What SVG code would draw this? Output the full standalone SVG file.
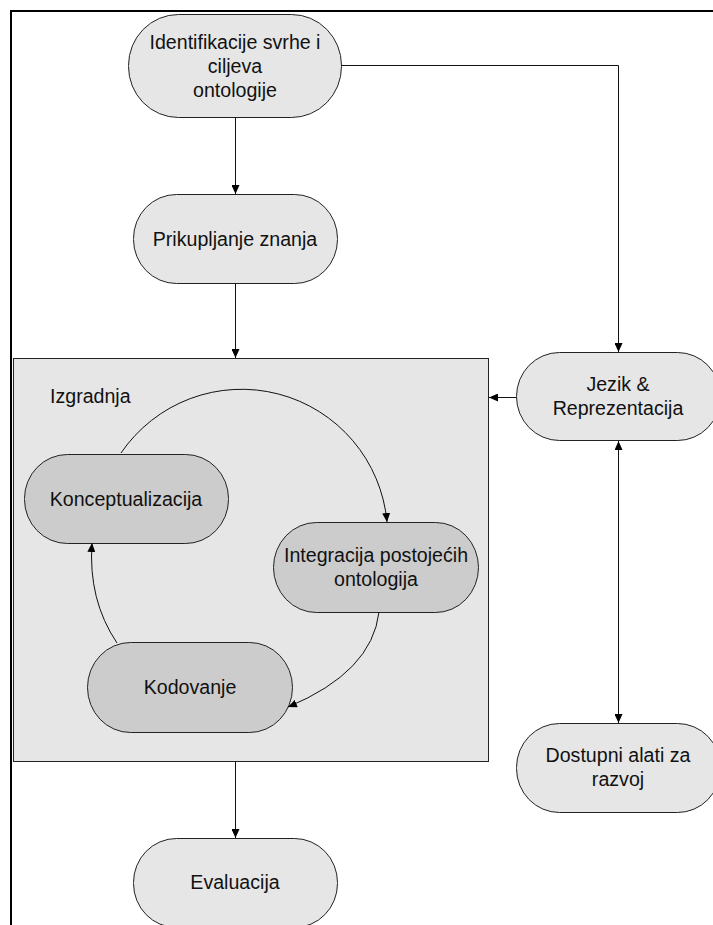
<svg xmlns="http://www.w3.org/2000/svg" width="713" height="925" viewBox="0 0 713 925">
<defs>
<marker id="ah" markerUnits="userSpaceOnUse" markerWidth="10" markerHeight="8" refX="9" refY="4" orient="auto">
<path d="M0,0 L9,4 L0,8 Z" fill="#000"/>
</marker>
<marker id="ahs" markerUnits="userSpaceOnUse" markerWidth="10" markerHeight="8" refX="0" refY="4" orient="auto">
<path d="M9,0 L0,4 L9,8 Z" fill="#000"/>
</marker>
<style>
.n1{fill:#e6e6e6;stroke:#222;stroke-width:1}
.n2{fill:#cccccc;stroke:#222;stroke-width:1}
.t{font-family:"Liberation Sans",Arial,sans-serif;font-size:19.6px;fill:#111;text-anchor:middle}
.c{fill:none;stroke:#111;stroke-width:1}
</style>
</defs>
<rect width="713" height="925" fill="#fff"/>
<path d="M11,925 V11 H713" fill="none" stroke="#000" stroke-width="2"/>

<g id="izgradnja">
<rect x="13.5" y="358.5" width="475" height="403" fill="#e6e6e6" stroke="#222" stroke-width="1"/>
<text x="50" y="403" font-family="Liberation Sans,Arial,sans-serif" font-size="19.6" fill="#111">Izgradnja</text>
</g>

<g id="identifikacija">
<rect class="n1" x="128.5" y="14.5" width="213" height="103" rx="50" ry="51"/>
<text class="t" x="235" y="48.5">Identifikacije svrhe i</text>
<text class="t" x="235" y="72.5">ciljeva</text>
<text class="t" x="235" y="96.5">ontologije</text>
</g>

<g id="prikupljanje">
<rect class="n1" x="133.5" y="194.5" width="204" height="89" rx="43" ry="44"/>
<text class="t" x="235" y="245.5">Prikupljanje znanja</text>
</g>

<g id="jezik">
<rect class="n1" x="516.5" y="352.5" width="204" height="88" rx="43" ry="44"/>
<text class="t" x="618" y="391">Jezik &amp;</text>
<text class="t" x="618" y="415">Reprezentacija</text>
</g>

<g id="konceptualizacija">
<rect class="n2" x="24.5" y="454.5" width="204" height="89" rx="43" ry="44"/>
<text class="t" x="126" y="505.5">Konceptualizacija</text>
</g>

<g id="integracija">
<rect class="n2" x="273.5" y="522.5" width="205" height="90" rx="43" ry="45"/>
<text class="t" x="376" y="562">Integracija postojećih</text>
<text class="t" x="376" y="586">ontologija</text>
</g>

<g id="kodovanje">
<rect class="n2" x="87.5" y="642.5" width="205" height="90" rx="43" ry="45"/>
<text class="t" x="190" y="694">Kodovanje</text>
</g>

<g id="dostupni">
<rect class="n1" x="516.5" y="723.5" width="204" height="89" rx="43" ry="44"/>
<text class="t" x="618" y="762">Dostupni alati za</text>
<text class="t" x="618" y="786">razvoj</text>
</g>

<g id="evaluacija">
<rect class="n1" x="133.5" y="838.5" width="204" height="89" rx="43" ry="44"/>
<text class="t" x="235" y="889">Evaluacija</text>
</g>

<g id="connectors">
<path class="c" d="M235.5,117 V194" marker-end="url(#ah)"/>
<path class="c" d="M235.5,283 V358" marker-end="url(#ah)"/>
<path class="c" d="M341,65.5 H618.5 V352" marker-end="url(#ah)"/>
<path class="c" d="M516,397.5 H489" marker-end="url(#ah)"/>
<path class="c" d="M618.5,441 V723" marker-start="url(#ahs)" marker-end="url(#ah)"/>
<path class="c" d="M235.5,762 V838" marker-end="url(#ah)"/>
<path class="c" d="M121,453 A146,146 0 0 1 387,522" marker-end="url(#ah)"/>
<path class="c" d="M379,612 Q372,672 288,707" marker-end="url(#ah)"/>
<path class="c" d="M117,643 Q88,600 92,543" marker-end="url(#ah)"/>
</g>
</svg>
